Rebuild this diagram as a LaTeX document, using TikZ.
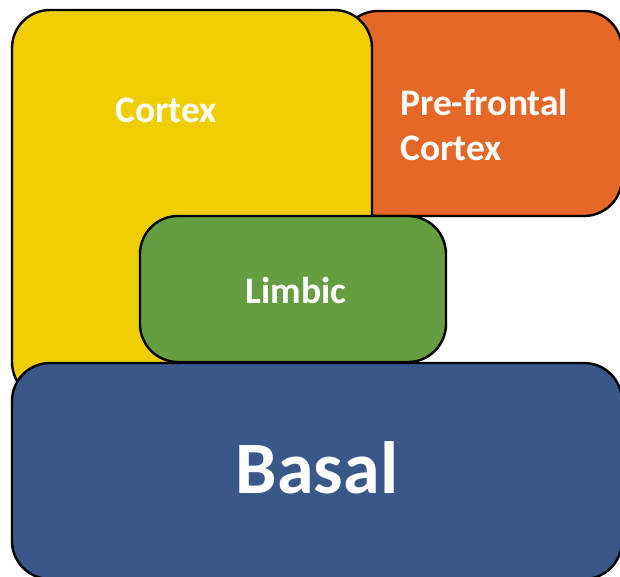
\documentclass[tikz,border=0pt]{standalone}
\usepackage{fontspec}
\setmainfont{Carlito}
\definecolor{cyel}{RGB}{238,206,0}
\definecolor{corg}{RGB}{229,104,41}
\definecolor{cgrn}{RGB}{101,158,65}
\definecolor{cblu}{RGB}{58,87,137}
\begin{document}
\begin{tikzpicture}[x=1pt,y=-1pt,
  region/.style={draw=black, line width=2.4pt, rounded corners=38pt, inner sep=0pt},
  lbl/.style={text=white, font=\bfseries, inner sep=0pt}]
\useasboundingbox (0,0) rectangle (620,576);
\clip (0,0) rectangle (620,576);
\node[region, fill=corg, minimum width=282pt, minimum height=205pt] (pfc) at (481,113.5) {};
\node[region, fill=cyel, minimum width=360pt, minimum height=390pt] (ctx) at (192,205) {};
\node[region, fill=cgrn, minimum width=306pt, minimum height=146pt] (lim) at (293,289) {};
\node[region, fill=cblu, minimum width=610pt, minimum height=216pt] (bas) at (317,471) {};
\node[lbl, font=\bfseries\fontsize{37.5}{45}\selectfont] (ctxt) at (166,110) {Cortex};
\node[lbl, font=\bfseries\fontsize{37.5}{45}\selectfont, align=left, anchor=west] (ptxt) at (400,125) {Pre-frontal\\Cortex};
\node[lbl, font=\bfseries\fontsize{37.5}{45}\selectfont] (ltxt) at (296,290) {Limbic};
\node[lbl, font=\bfseries\fontsize{74}{88}\selectfont] (btxt) at (317,468) {Basal};
\end{tikzpicture}
\end{document}
